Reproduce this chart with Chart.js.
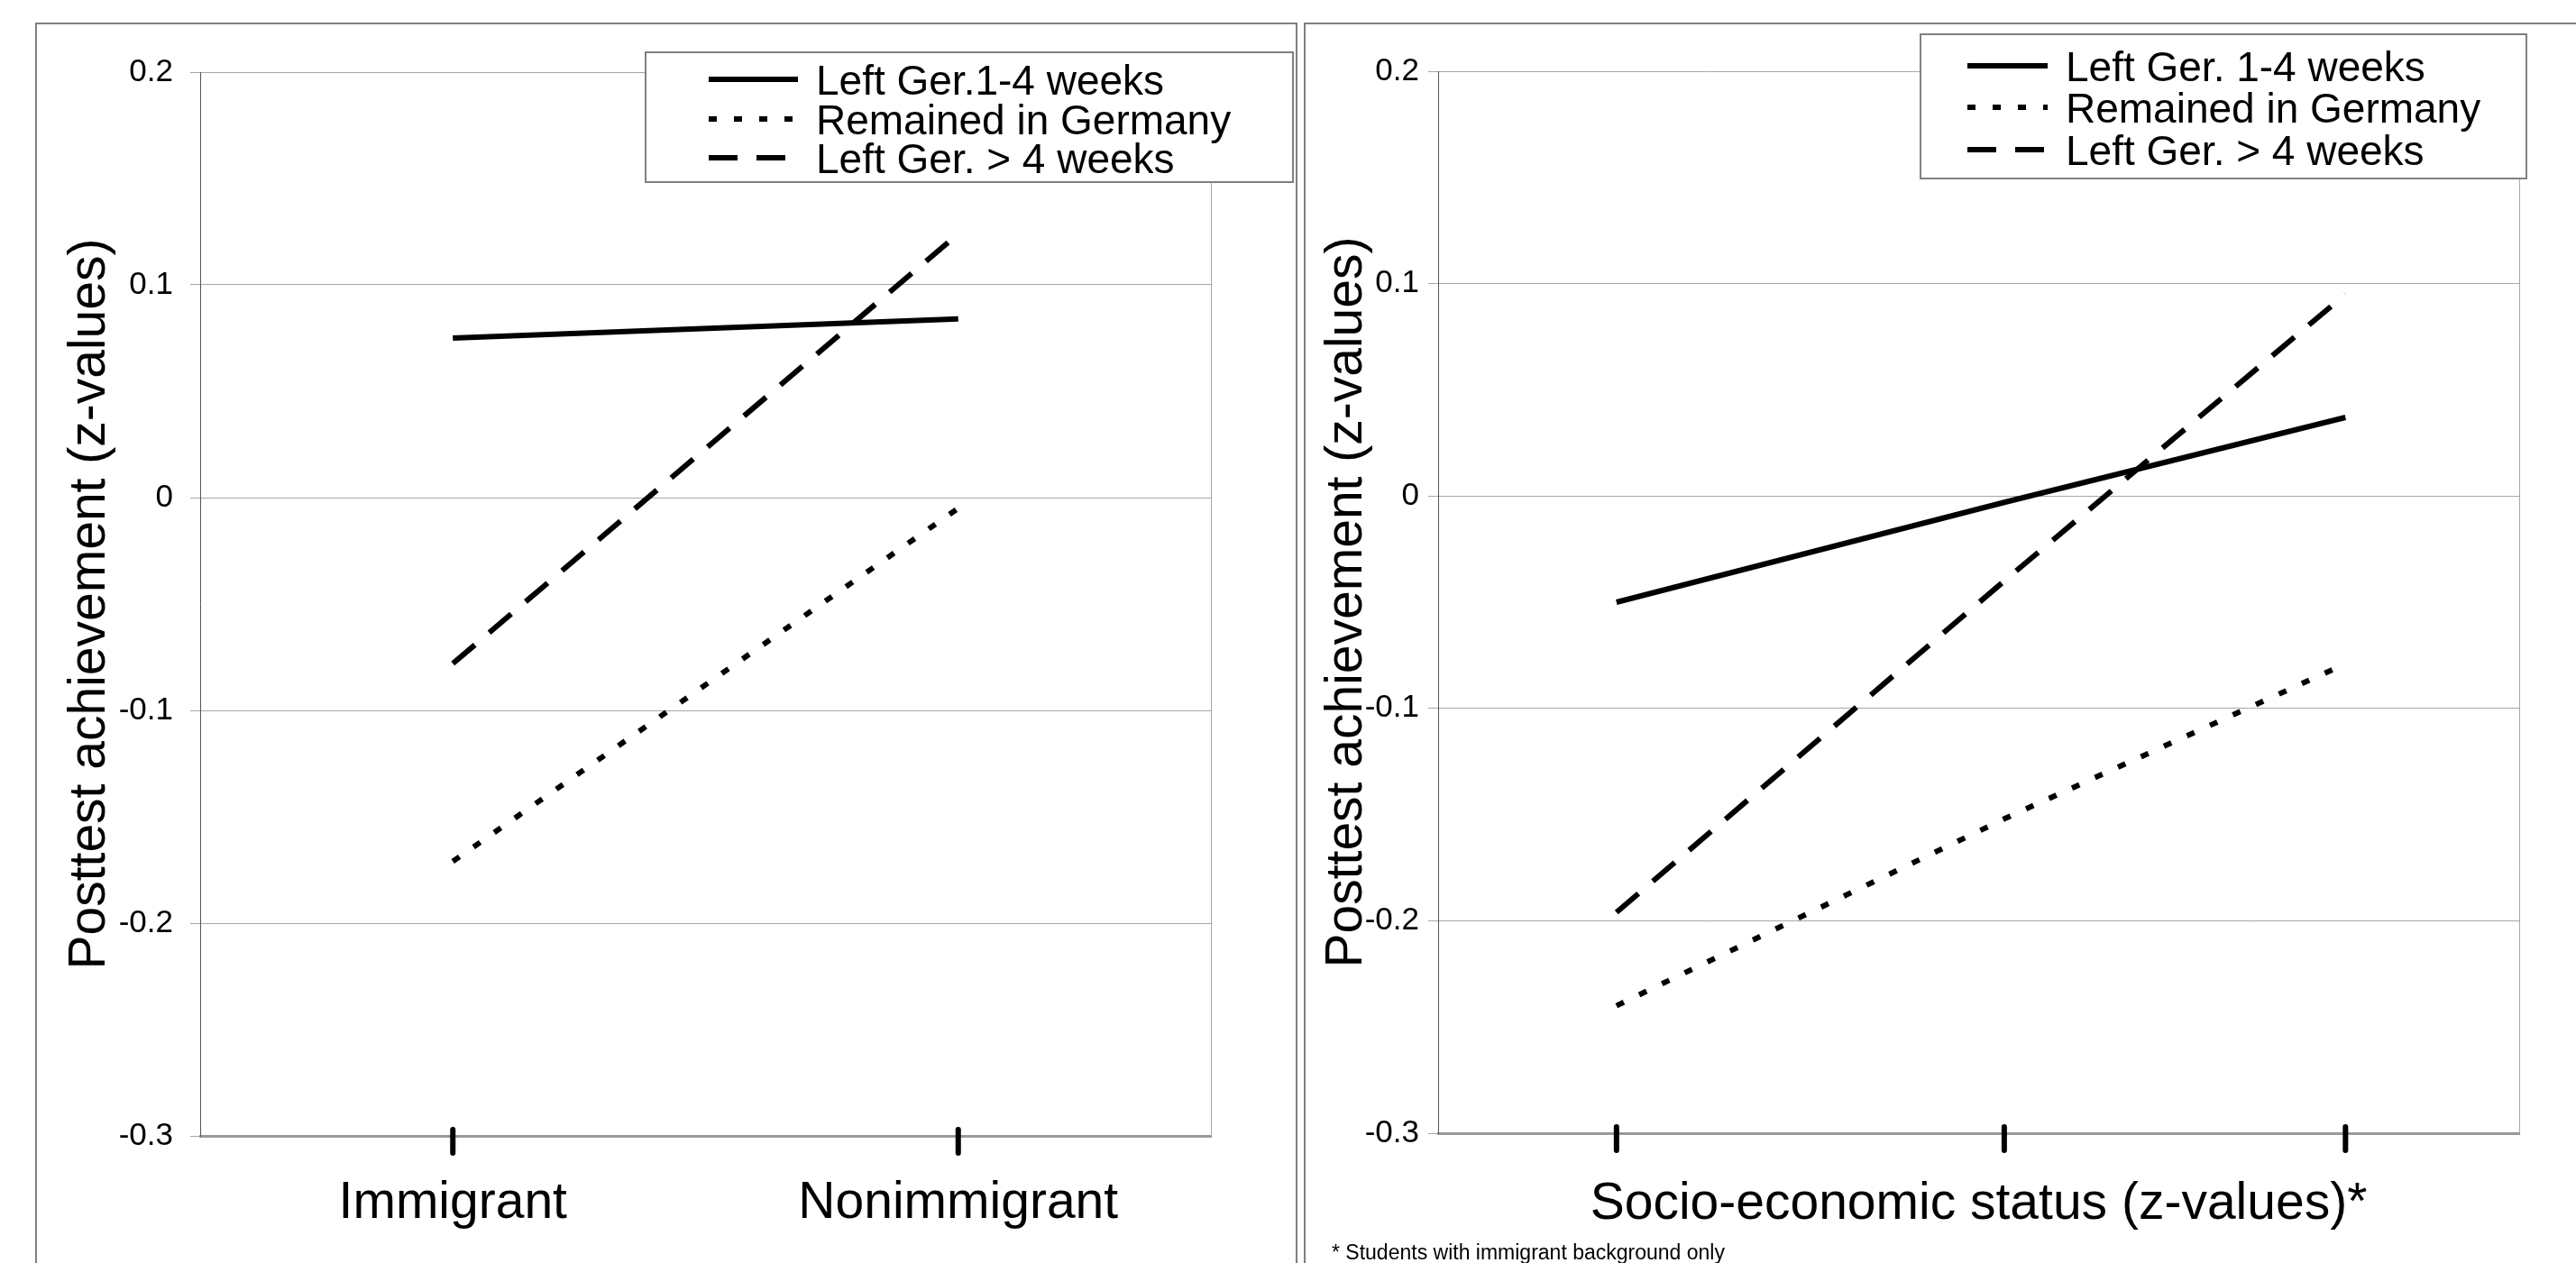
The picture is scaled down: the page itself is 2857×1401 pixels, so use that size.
<!DOCTYPE html>
<html>
<head>
<meta charset="utf-8">
<script src="https://cdn.jsdelivr.net/npm/chart.js@4.4.1/dist/chart.umd.min.js"></script>
<style>
  html, body { margin: 0; padding: 0; background: #fff; overflow: hidden; }
  body { width: 2857px; height: 1401px; position: relative; font-family: "Liberation Sans", Arial, sans-serif; }
  .frame { position: absolute; border: 2px solid #7f7f7f; border-bottom: none; box-sizing: border-box; }
  #left-frame { left: 39px; top: 25px; width: 1400px; height: 1400px; }
  #right-frame { left: 1446px; top: 25px; width: 1420px; height: 1400px; border-right: none; }
  canvas { position: absolute; left: 0; top: 0; }
  #footnote { position: absolute; left: 1477px; top: 1376px; font-size: 23px; color: #000; white-space: nowrap; }
</style>
</head>
<body>
<div class="frame" id="left-frame"></div>
<div class="frame" id="right-frame"></div>
<canvas id="left-chart" width="2857" height="1401"></canvas>
<canvas id="right-chart" width="2857" height="1401"></canvas>
<div id="footnote">* Students with immigrant background only</div>

<script>
const leftCategories = ['Immigrant', 'Nonimmigrant'];
const leftLabels = ['Left Ger.1-4 weeks', 'Remained in Germany', 'Left Ger. > 4 weeks'];
const leftShortStay = [0.075, 0.084];
const leftRemained = [-0.171, -0.005];
const leftLongStay = [-0.078, 0.124];

const sesPoints = [-1, 0, 0.88];
const rightLabels = ['Left Ger. 1-4 weeks', 'Remained in Germany', 'Left Ger. > 4 weeks'];
const rightShortStay = [-0.050, -0.003, 0.037];
const rightRemained = [-0.240, -0.152, -0.079];
const rightLongStay = [-0.196, -0.040, 0.095];

const yTickLabels = ['-0.3', '-0.2', '-0.1', '0', '0.1', '0.2'];

const FONT = '"Liberation Sans", Arial, sans-serif';
Chart.defaults.font.family = FONT;
Chart.defaults.color = '#000';

const lineStyles = [
    { borderDash: [], borderWidth: 6 },
    { borderDash: [9, 19], borderWidth: 6 },
    { borderDash: [32, 21], borderWidth: 6 }
];

function makeDatasets(labels, series) {
    return series.map((data, i) => ({
        label: labels[i],
        data,
        borderColor: '#000',
        borderWidth: lineStyles[i].borderWidth,
        borderDash: lineStyles[i].borderDash,
        borderCapStyle: 'butt',
        pointRadius: 0,
        fill: false,
        tension: 0
    }));
}

// plot frame, thick tick bars on the x axis and the boxed legend
const panelDecor = {
    id: 'panelDecor',
    beforeDatasetsDraw(chart, args, opts) {
        const { ctx, chartArea: a } = chart;
        const xs = chart.scales.x;
        ctx.save();
        ctx.strokeStyle = '#a6a6a6';
        ctx.lineWidth = 1;
        ctx.beginPath();
        ctx.moveTo(Math.round(a.right) + 0.5, a.top);
        ctx.lineTo(Math.round(a.right) + 0.5, a.bottom);
        ctx.stroke();

        ctx.strokeStyle = '#000';
        ctx.lineWidth = 6;
        ctx.lineCap = 'round';
        opts.tickValues.forEach(v => {
            const px = xs.getPixelForValue(v);
            ctx.beginPath();
            ctx.moveTo(px, a.bottom - 7);
            ctx.lineTo(px, a.bottom + 19);
            ctx.stroke();
        });
        ctx.restore();
    },
    afterDraw(chart, args, opts) {
        const { ctx } = chart;
        const b = opts.box;
        ctx.save();
        ctx.fillStyle = '#fff';
        ctx.fillRect(b.x, b.y, b.w, b.h);
        ctx.strokeStyle = '#808080';
        ctx.lineWidth = 2;
        ctx.strokeRect(b.x, b.y, b.w, b.h);
        chart.data.datasets.forEach((ds, i) => {
            const row = b.rows[i];
            ctx.strokeStyle = '#000';
            ctx.lineWidth = ds.borderWidth;
            ctx.lineCap = 'butt';
            ctx.setLineDash(ds.borderDash || []);
            ctx.beginPath();
            ctx.moveTo(b.sampleStart, row);
            ctx.lineTo(b.sampleEnd, row);
            ctx.stroke();
            ctx.setLineDash([]);
            ctx.fillStyle = '#000';
            ctx.font = '46px ' + FONT;
            ctx.textBaseline = 'alphabetic';
            ctx.textAlign = 'left';
            ctx.fillText(ds.label, b.textX, row + 17);
        });
        ctx.restore();
    }
};

function yScale(width, labelPad, titlePad) {
    return {
        min: -0.3,
        max: 0.2,
        afterFit(scale) { scale.width = width; },
        ticks: {
            stepSize: 0.1,
            padding: labelPad,
            font: { size: 35 },
            callback: (v, i) => yTickLabels[i]
        },
        grid: { color: '#a6a6a6', lineWidth: 1, tickLength: 11, tickColor: '#a6a6a6' },
        border: { color: '#555', width: 1 },
        title: {
            display: true,
            text: 'Posttest achievement (z-values)',
            font: { size: 57 },
            padding: { top: titlePad, bottom: 0 }
        }
    };
}

new Chart(document.getElementById('left-chart'), {
    type: 'line',
    data: {
        labels: leftCategories,
        datasets: makeDatasets(leftLabels, [leftShortStay, leftRemained, leftLongStay])
    },
    options: {
        responsive: false,
        animation: false,
        devicePixelRatio: 1,
        layout: { padding: { left: 0, top: 80, right: 1514, bottom: 0 } },
        plugins: {
            legend: { display: false },
            tooltip: { enabled: false },
            panelDecor: {
                tickValues: leftCategories.map((c, i) => i),
                box: { x: 716, y: 58, w: 718, h: 144, sampleStart: 786, sampleEnd: 885, textX: 905, rows: [88, 132, 175] }
            }
        },
        scales: {
            x: {
                type: 'category',
                offset: true,
                afterFit(scale) { scale.height = 141; },
                ticks: { font: { size: 57 }, padding: 41, maxRotation: 0 },
                grid: { drawOnChartArea: false, drawTicks: false },
                border: { color: '#999', width: 3 }
            },
            y: yScale(222, 19, 66)
        }
    },
    plugins: [panelDecor]
});

new Chart(document.getElementById('right-chart'), {
    type: 'line',
    data: {
        datasets: makeDatasets(rightLabels, [rightShortStay, rightRemained, rightLongStay].map(
            s => s.map((y, i) => ({ x: sesPoints[i], y }))
        ))
    },
    options: {
        responsive: false,
        animation: false,
        devicePixelRatio: 1,
        layout: { padding: { left: 1447, top: 79, right: 63, bottom: 0 } },
        plugins: {
            legend: { display: false },
            tooltip: { enabled: false },
            panelDecor: {
                tickValues: sesPoints,
                box: { x: 2130, y: 38, w: 672, h: 160, sampleStart: 2182, sampleEnd: 2271, textX: 2291, rows: [73, 119, 166] }
            }
        },
        scales: {
            x: {
                type: 'linear',
                min: -1.46,
                max: 1.328,
                afterFit(scale) { scale.height = 144; },
                ticks: { display: false },
                grid: { drawOnChartArea: false, drawTicks: false },
                border: { color: '#999', width: 3 },
                title: {
                    display: true,
                    text: 'Socio-economic status (z-values)*',
                    font: { size: 57 },
                    padding: { top: 0, bottom: 31 }
                }
            },
            y: yScale(148, 10, 13)
        }
    },
    plugins: [panelDecor]
});
</script>
</body>
</html>
